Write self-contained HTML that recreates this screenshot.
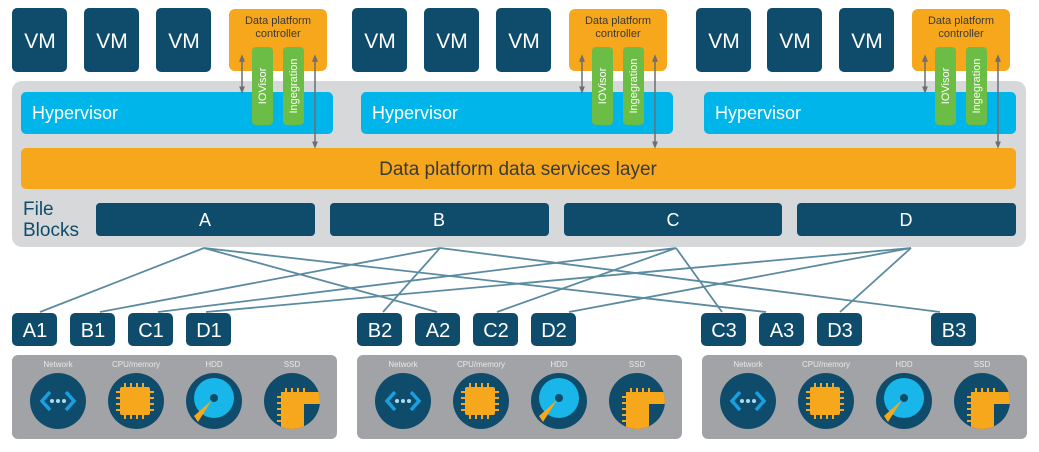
<!DOCTYPE html>
<html><head><meta charset="utf-8"><style>
html,body{margin:0;padding:0;background:#fff;}
svg{display:block;}
text{font-family:"Liberation Sans",sans-serif;}
</style></head><body>
<svg width="1039" height="452" viewBox="0 0 1039 452" xmlns="http://www.w3.org/2000/svg">
<defs>
<marker id="ah" viewBox="0 0 10 10" refX="5" refY="5" markerWidth="5" markerHeight="5" orient="auto-start-reverse"><path d="M0,1 L10,5 L0,9 z" fill="#6d6e72"/></marker>
<clipPath id="ssdclip"><circle cx="292" cy="401" r="28"/></clipPath>
</defs>
<rect x="12" y="81" width="1014" height="166" rx="10" fill="#d7d8da"/>
<rect x="21" y="92" width="312" height="42" rx="5" fill="#00b5ea"/>
<rect x="361" y="92" width="312" height="42" rx="5" fill="#00b5ea"/>
<rect x="704" y="92" width="312" height="42" rx="5" fill="#00b5ea"/>
<text x="32" y="119" font-size="18" fill="#fff">Hypervisor</text>
<text x="372" y="119" font-size="18" fill="#fff">Hypervisor</text>
<text x="715" y="119" font-size="18" fill="#fff">Hypervisor</text>
<rect x="21" y="148" width="995" height="41" rx="5" fill="#f7a71c"/>
<text x="518" y="175" font-size="19" fill="#3a3a3a" text-anchor="middle">Data platform data services layer</text>
<text x="23" y="215" font-size="19" fill="#0f4c6b">File</text>
<text x="23" y="236" font-size="19" fill="#0f4c6b">Blocks</text>
<rect x="96" y="203" width="219" height="33" rx="4" fill="#0f4c6b"/>
<rect x="330" y="203" width="219" height="33" rx="4" fill="#0f4c6b"/>
<rect x="564" y="203" width="218" height="33" rx="4" fill="#0f4c6b"/>
<rect x="797" y="203" width="219" height="33" rx="4" fill="#0f4c6b"/>
<g font-size="18" fill="#fff" text-anchor="middle">
<text x="205" y="226">A</text><text x="439" y="226">B</text><text x="673" y="226">C</text><text x="906" y="226">D</text>
</g>
<g fill="#0f4c6b">
<rect x="12" y="8" width="55" height="64" rx="5"/><rect x="84" y="8" width="55" height="64" rx="5"/><rect x="156" y="8" width="55" height="64" rx="5"/>
<rect x="352" y="8" width="55" height="64" rx="5"/><rect x="424" y="8" width="55" height="64" rx="5"/><rect x="496" y="8" width="55" height="64" rx="5"/>
<rect x="696" y="8" width="55" height="64" rx="5"/><rect x="767" y="8" width="55" height="64" rx="5"/><rect x="839" y="8" width="55" height="64" rx="5"/>
</g>
<g font-size="21" fill="#fff" text-anchor="middle">
<text x="40" y="48">VM</text><text x="112" y="48">VM</text><text x="184" y="48">VM</text>
<text x="380" y="48">VM</text><text x="452" y="48">VM</text><text x="524" y="48">VM</text>
<text x="724" y="48">VM</text><text x="795" y="48">VM</text><text x="867" y="48">VM</text>
</g>
<g id="c1">
<rect x="229" y="9" width="98" height="62" rx="6" fill="#f7a71c"/>
<rect x="252" y="47" width="21" height="78" rx="4" fill="#6cbd45"/>
<rect x="283" y="47" width="21" height="78" rx="4" fill="#6cbd45"/>
<line x1="242" y1="58" x2="242" y2="90" stroke="#6d6e72" stroke-width="1.5" marker-start="url(#ah)" marker-end="url(#ah)"/>
<line x1="315" y1="58" x2="315" y2="145" stroke="#6d6e72" stroke-width="1.5" marker-start="url(#ah)" marker-end="url(#ah)"/>
</g>
<use href="#c1" transform="translate(340,0)"/>
<use href="#c1" transform="translate(683,0)"/>
<g font-size="11" fill="#3a3a3a" text-anchor="middle">
<text x="278" y="24">Data platform</text><text x="278" y="37">controller</text>
<text x="618" y="24">Data platform</text><text x="618" y="37">controller</text>
<text x="961" y="24">Data platform</text><text x="961" y="37">controller</text>
</g>
<g font-size="11" fill="#fff" text-anchor="middle">
<text transform="translate(266,86) rotate(-90)">IOVisor</text>
<text transform="translate(297,86) rotate(-90)">Ingegration</text>
<text transform="translate(606,86) rotate(-90)">IOVisor</text>
<text transform="translate(637,86) rotate(-90)">Ingegration</text>
<text transform="translate(949,86) rotate(-90)">IOVisor</text>
<text transform="translate(980,86) rotate(-90)">Ingegration</text>
</g>
<g stroke="#5b8ba1" stroke-width="1.8" fill="none">
<path d="M204,248 L40,312 M204,248 L437,312 M204,248 L766,312"/>
<path d="M440,248 L100,312 M440,248 L383,312 M440,248 L940,312"/>
<path d="M676,248 L158,312 M676,248 L497,312 M676,248 L722,312"/>
<path d="M911,248 L206,312 M911,248 L569,312 M911,248 L840,312"/>
</g>
<g fill="#0f4c6b">
<rect x="12" y="313" width="45" height="33" rx="5"/><rect x="70" y="313" width="45" height="33" rx="5"/><rect x="128" y="313" width="45" height="33" rx="5"/><rect x="186" y="313" width="45" height="33" rx="5"/>
<rect x="357" y="313" width="45" height="33" rx="5"/><rect x="415" y="313" width="45" height="33" rx="5"/><rect x="473" y="313" width="45" height="33" rx="5"/><rect x="531" y="313" width="45" height="33" rx="5"/>
<rect x="701" y="313" width="45" height="33" rx="5"/><rect x="759" y="313" width="45" height="33" rx="5"/><rect x="817" y="313" width="45" height="33" rx="5"/><rect x="931" y="313" width="45" height="33" rx="5"/>
</g>
<g font-size="20" fill="#fff" text-anchor="middle">
<text x="35" y="337">A1</text><text x="93" y="337">B1</text><text x="151" y="337">C1</text><text x="209" y="337">D1</text>
<text x="380" y="337">B2</text><text x="438" y="337">A2</text><text x="496" y="337">C2</text><text x="554" y="337">D2</text>
<text x="724" y="337">C3</text><text x="782" y="337">A3</text><text x="840" y="337">D3</text><text x="954" y="337">B3</text>
</g>
<g id="hw">
<rect x="12" y="355" width="325" height="84" rx="6" fill="#a2a3a6"/>
<circle cx="58" cy="401" r="28" fill="#0f4c6b"/>
<path d="M50,392 L42,401 L50,410" stroke="#1a9fe0" stroke-width="3.5" fill="none"/>
<path d="M66,392 L74,401 L66,410" stroke="#1a9fe0" stroke-width="3.5" fill="none"/>
<circle cx="52" cy="401" r="2" fill="#a8dcf5"/><circle cx="58" cy="401" r="2" fill="#a8dcf5"/><circle cx="64" cy="401" r="2" fill="#a8dcf5"/>
<circle cx="136" cy="401" r="28" fill="#0f4c6b"/>
<rect x="120" y="387" width="30" height="28" rx="2" fill="#f7a71c"/>
<g stroke="#f7a71c" stroke-width="2"><path d="M125,383 v4 M131,383 v4 M137,383 v4 M143,383 v4 M125,415 v4 M131,415 v4 M137,415 v4 M143,415 v4 M116,392 h4 M116,398 h4 M116,404 h4 M116,410 h4 M150,392 h4 M150,398 h4 M150,404 h4 M150,410 h4"/></g>
<circle cx="214" cy="401" r="28" fill="#0f4c6b"/>
<circle cx="214" cy="398" r="20" fill="#19b6ea"/>
<circle cx="214" cy="398" r="4" fill="#0f4c6b"/>
<path d="M212,400 L194,416 L198,422 z" fill="#f7a71c"/>
<circle cx="292" cy="401" r="28" fill="#0f4c6b"/>
<g clip-path="url(#ssdclip)">
<path d="M281,392 H322 V404 H304 V432 H281 z" fill="#f7a71c"/>
<g stroke="#f7a71c" stroke-width="2"><path d="M286,388 v4 M292,388 v4 M298,388 v4 M304,388 v4 M277,397 h4 M277,403 h4 M277,409 h4 M277,415 h4 M277,421 h4"/></g>
</g>
<g font-size="8" fill="#e8e8e8" text-anchor="middle">
<text x="58" y="367">Network</text><text x="136" y="367">CPU/memory</text><text x="214" y="367">HDD</text><text x="292" y="367">SSD</text>
</g>
</g>
<use href="#hw" transform="translate(345,0)"/>
<use href="#hw" transform="translate(690,0)"/>
</svg>
</body></html>
